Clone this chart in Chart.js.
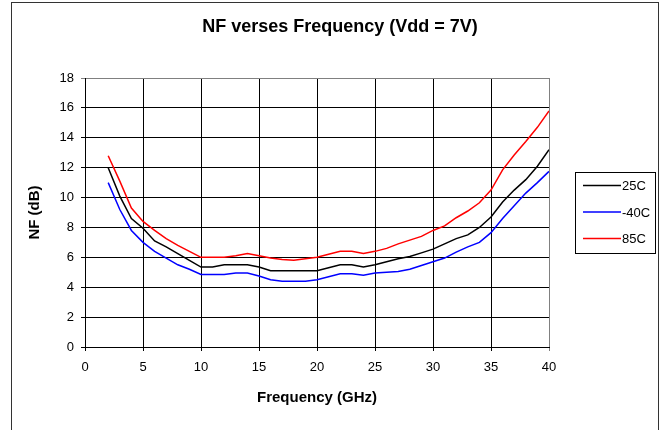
<!DOCTYPE html>
<html>
<head>
<meta charset="utf-8">
<script src="https://cdn.jsdelivr.net/npm/chart.js@4.4.1/dist/chart.umd.min.js"></script>
<style>
    html, body { margin: 0; padding: 0; background: #fff; }
    #wrap { width: 663px; height: 430px; position: relative; }
</style>
</head>
<body>
<div id="wrap"><canvas id="chart-nf"></canvas></div>
<script>
// Dados (NF em dB por frequência em GHz)
const freqGHz = [2, 3, 4, 5, 6, 7, 8, 9, 10, 11, 12, 13, 14, 15, 16, 17, 18, 19, 20, 21,
                 22, 23, 24, 25, 26, 27, 28, 29, 30, 31, 32, 33, 34, 35, 36, 37, 38, 39, 40];

const nf25C = [12.0, 10.1, 8.6, 7.95, 7.1, 6.7, 6.25, 5.8, 5.35, 5.35, 5.5, 5.5, 5.5, 5.35, 5.1, 5.1, 5.1, 5.1, 5.1, 5.3,
               5.5, 5.5, 5.35, 5.5, 5.7, 5.9, 6.05, 6.3, 6.55, 6.9, 7.25, 7.5, 8.0, 8.7, 9.7, 10.5, 11.2, 12.1, 13.2];

const nfMinus40C = [11.0, 9.2, 7.8, 7.0, 6.4, 5.95, 5.5, 5.2, 4.85, 4.85, 4.85, 4.95, 4.95, 4.75, 4.5, 4.4, 4.4, 4.4, 4.5, 4.7,
                    4.9, 4.9, 4.8, 4.95, 5.0, 5.05, 5.2, 5.45, 5.7, 5.95, 6.35, 6.7, 7.0, 7.65, 8.6, 9.45, 10.3, 11.0, 11.75];

const nf85C = [12.8, 11.1, 9.3, 8.4, 7.8, 7.25, 6.8, 6.4, 6.0, 6.0, 6.0, 6.1, 6.25, 6.1, 5.95, 5.85, 5.8, 5.9, 6.0, 6.2,
               6.4, 6.4, 6.25, 6.4, 6.6, 6.9, 7.15, 7.4, 7.8, 8.1, 8.65, 9.1, 9.65, 10.5, 11.85, 12.85, 13.75, 14.7, 15.8];

const seriesLabels = ['25C', '-40C', '85C'];
const seriesColors = ['#000000', '#0000ff', '#ff0000'];

const xTickValues = [0, 5, 10, 15, 20, 25, 30, 35, 40];
const yTickValues = [0, 2, 4, 6, 8, 10, 12, 14, 16, 18];

const chartTitle = 'NF verses Frequency (Vdd = 7V)';
const xTitle = 'Frequency (GHz)';
const yTitle = 'NF (dB)';

const FONT = "'Liberation Sans', Arial, sans-serif";

function toPoints(values) {
    return freqGHz.map((f, i) => ({ x: f, y: values[i] }));
}

// Moldura, título e legenda no estilo do Excel
const excelDecor = {
    id: 'excelDecor',
    afterDraw(chart) {
        const ctx = chart.ctx;
        ctx.save();

        // moldura externa
        ctx.strokeStyle = '#333333';
        ctx.lineWidth = 1;
        ctx.strokeRect(11.5, 2.5, 647, 440);

        // título
        ctx.fillStyle = '#000';
        ctx.font = 'bold 18px ' + FONT;
        ctx.textAlign = 'center';
        ctx.textBaseline = 'alphabetic';
        ctx.fillText(chartTitle, 340, 32);

        // legenda
        ctx.strokeStyle = '#000';
        ctx.lineWidth = 1;
        ctx.strokeRect(575.5, 172.5, 80, 81);
        ctx.font = '13px ' + FONT;
        ctx.textAlign = 'left';
        ctx.textBaseline = 'middle';
        chart.data.datasets.forEach((ds, i) => {
            const y = 185.5 + i * 26.5;
            ctx.strokeStyle = ds.borderColor;
            ctx.lineWidth = 1.5;
            ctx.beginPath();
            ctx.moveTo(583, y);
            ctx.lineTo(621, y);
            ctx.stroke();
            ctx.fillStyle = '#000';
            ctx.fillText(ds.label, 622, y + 1);
        });

        ctx.restore();
    }
};

const ctxNF = document.getElementById('chart-nf').getContext('2d');
new Chart(ctxNF, {
    type: 'line',
    data: {
        datasets: [
            { label: seriesLabels[0], data: toPoints(nf25C), borderColor: seriesColors[0] },
            { label: seriesLabels[1], data: toPoints(nfMinus40C), borderColor: seriesColors[1] },
            { label: seriesLabels[2], data: toPoints(nf85C), borderColor: seriesColors[2] }
        ].map(ds => Object.assign(ds, { borderWidth: 1.5, pointRadius: 0, tension: 0, fill: false }))
    },
    options: {
        responsive: true,
        maintainAspectRatio: false,
        animation: false,
        layout: { padding: { left: 12, top: 78, right: 114, bottom: 10 } },
        plugins: {
            legend: { display: false },
            title: { display: false },
            tooltip: { enabled: false }
        },
        scales: {
            x: {
                type: 'linear',
                min: 0,
                max: 40,
                afterBuildTicks: s => { s.ticks = xTickValues.map(v => ({ value: v })); },
                afterFit: s => { s.height = 73; },
                ticks: { color: '#000', font: { family: FONT, size: 13 }, padding: 9, maxRotation: 0 },
                grid: {
                    color: c => (c.tick && c.tick.value === 40 ? '#808080' : '#000'),
                    lineWidth: 1,
                    tickLength: 4,
                    drawTicks: true
                },
                border: { color: '#000', width: 1 },
                title: {
                    display: true,
                    text: xTitle,
                    color: '#000',
                    font: { family: FONT, size: 15, weight: 'bold' },
                    padding: { top: 0, bottom: 13 }
                }
            },
            y: {
                min: 0,
                max: 18,
                afterBuildTicks: s => { s.ticks = yTickValues.map(v => ({ value: v })); },
                afterFit: s => { s.width = 73; },
                ticks: { color: '#000', font: { family: FONT, size: 13 }, padding: 7 },
                grid: {
                    color: c => (c.tick && c.tick.value === 18 ? '#808080' : '#000'),
                    lineWidth: 1,
                    tickLength: 4,
                    drawTicks: true
                },
                border: { color: '#000', width: 1 },
                title: {
                    display: true,
                    text: yTitle,
                    color: '#000',
                    font: { family: FONT, size: 15, weight: 'bold' },
                    padding: { top: 14, bottom: 0 }
                }
            }
        }
    },
    plugins: [excelDecor]
});
</script>
</body>
</html>
